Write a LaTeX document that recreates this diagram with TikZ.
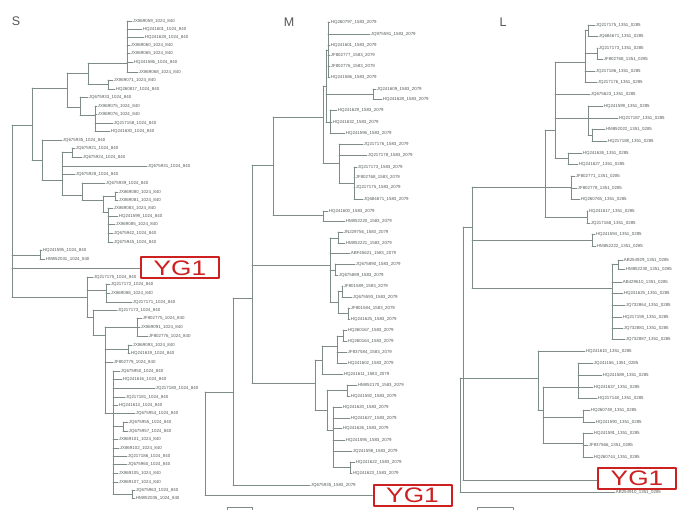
\documentclass[tikz,border=0pt]{standalone}
\usepackage{fontspec}
\setmainfont{Liberation Sans}
\definecolor{branchgray}{RGB}{125,140,135}
\definecolor{tipgray}{RGB}{85,90,90}
\definecolor{boxred}{RGB}{205,32,32}
\definecolor{titlegray}{RGB}{85,85,85}
\newcounter{tipno}
% vertical line of a clade, horizontal stem, and a labelled tip
\newcommand{\clade}[3]{\draw[branch] (#1,#2) -- (#1,#3);}
\newcommand{\stem}[3]{\draw[branch] (#1,#3) -- (#2,#3);}
\newcommand{\tipleaf}[4]{\stepcounter{tipno}%
  \draw[branch] (#1,#3) -- (#2,#3) node[tip] (tip\thetipno) {#4\sfx};}
\begin{document}
\begin{tikzpicture}[line join=round, line cap=round, x=1pt, y=-1pt]
            \tikzset{branch/.style={draw=branchgray, line width=0.6pt},
                     tip/.style={anchor=west, inner sep=0.6pt, text=tipgray, font=\fontsize{4.4}{5}\selectfont},
                     title/.style={text=titlegray, font=\fontsize{12.5}{14}\selectfont},
                     ygbox/.style={draw=boxred, line width=2pt, fill=white, text=boxred, minimum width=78pt, minimum height=21pt, inner sep=0pt, font=\fontsize{21}{21}\selectfont}}
            \useasboundingbox (0,0) rectangle (677,510);
            % ---------- S ----------
            \def\sfx{\_1024\_840}
            \node[title] (titleS) at (16,21) {S};
            \clade{12}{125}{297}
            \stem{12}{32}{125}
            \clade{32}{88}{160}
            \stem{32}{67}{88}
            \clade{67}{73}{107}
            \stem{67}{88}{73}
            \clade{88}{63}{84}
            \stem{88}{127}{63}
            \clade{127}{21}{72}
            \tipleaf{127}{132}{21}{JX869059}
            \tipleaf{127}{142}{29}{HQ241601}
            \tipleaf{127}{144}{37}{HQ241628}
            \tipleaf{127}{130}{45}{JX869060}
            \tipleaf{127}{130}{53}{JX869065}
            \tipleaf{127}{133}{62}{HQ241586}
            \tipleaf{127}{138}{72}{JX869068}
            \stem{88}{108}{84}
            \clade{108}{80}{89}
            \tipleaf{108}{113}{80}{JX869071}
            \tipleaf{108}{115}{89}{HQ260817}
            \stem{67}{80}{107}
            \clade{80}{97}{115}
            \tipleaf{80}{88}{97}{JQ675933}
            \stem{80}{95}{115}
            \clade{95}{106}{131}
            \tipleaf{95}{97}{106}{JX869075}
            \tipleaf{95}{97}{114}{JX869076}
            \tipleaf{95}{113}{123}{JQ217158}
            \tipleaf{95}{110}{131}{HQ241630}
            \stem{32}{42}{160}
            \clade{42}{140}{180}
            \tipleaf{42}{62}{140}{JQ675935}
            \stem{42}{62}{180}
            \clade{62}{152}{195}
            \stem{62}{72}{152}
            \clade{72}{148}{157}
            \tipleaf{72}{75}{148}{JQ675921}
            \tipleaf{72}{82}{157}{JQ675924}
            \tipleaf{62}{147}{166}{JQ675931}
            \tipleaf{62}{75}{174}{JQ675928}
            \stem{62}{82}{195}
            \clade{82}{183}{200}
            \tipleaf{82}{105}{183}{JQ675939}
            \stem{82}{103}{200}
            \clade{103}{196}{212}
            \stem{103}{115}{196}
            \clade{115}{192}{200}
            \tipleaf{115}{118}{192}{JX869080}
            \tipleaf{115}{118}{200}{JX869081}
            \stem{103}{108}{212}
            \clade{108}{208}{242}
            \tipleaf{108}{113}{208}{JX869083}
            \tipleaf{108}{118}{216}{HQ241599}
            \tipleaf{108}{115}{224}{JX869085}
            \tipleaf{108}{113}{233}{JQ675942}
            \tipleaf{108}{113}{242}{JQ675945}
            \stem{12}{40}{255}
            \clade{40}{250}{259}
            \tipleaf{40}{42}{250}{HQ241595}
            \tipleaf{40}{45}{259}{HM852031}
            \node[ygbox] (ygS) at (180,268) {\scalebox{1.25}[1]{YG1}};
            \draw[branch] (12,268) -- (ygS.west);
            \stem{12}{87}{297}
            \clade{87}{277}{317}
            \tipleaf{87}{93}{277}{JQ217175}
            \stem{87}{106}{290}
            \clade{106}{284}{302}
            \tipleaf{106}{110}{284}{JQ217172}
            \tipleaf{106}{110}{293}{JX869088}
            \tipleaf{106}{132}{302}{JQ217171}
            \stem{87}{93}{317}
            \clade{93}{310}{335}
            \tipleaf{93}{117}{310}{JQ217173}
            \stem{93}{105}{335}
            \clade{105}{327}{413}
            \stem{105}{137}{327}
            \clade{137}{318}{336}
            \tipleaf{137}{142}{318}{JF802775}
            \tipleaf{137}{140}{327}{JX869091}
            \tipleaf{137}{148}{336}{JF802776}
            \stem{105}{128}{349}
            \clade{128}{345}{353}
            \tipleaf{128}{132}{345}{JX869093}
            \tipleaf{128}{130}{353}{HQ241619}
            \tipleaf{105}{113}{362}{JF802779}
            \stem{105}{113}{413}
            \clade{113}{371}{494}
            \tipleaf{113}{120}{371}{JQ675950}
            \tipleaf{113}{122}{379}{HQ241616}
            \tipleaf{113}{155}{388}{JQ217180}
            \tipleaf{113}{125}{397}{JQ217181}
            \tipleaf{113}{118}{405}{HQ241613}
            \tipleaf{113}{135}{413}{JQ675954}
            \stem{113}{123}{426}
            \clade{123}{422}{431}
            \tipleaf{123}{128}{422}{JQ675955}
            \tipleaf{123}{128}{431}{JQ675957}
            \tipleaf{113}{118}{439}{JX869101}
            \tipleaf{113}{119}{448}{JX869102}
            \tipleaf{113}{127}{456}{JQ217186}
            \tipleaf{113}{127}{464}{JQ675960}
            \tipleaf{113}{118}{473}{JX869105}
            \tipleaf{113}{118}{482}{JX869107}
            \stem{113}{132}{494}
            \clade{132}{490}{498}
            \tipleaf{132}{135}{490}{JQ675963}
            \tipleaf{132}{135}{498}{HM852035}
            % ---------- M ----------
            \def\sfx{\_1583\_2079}
            \node[title] (titleM) at (289,22) {M};
            \clade{205}{392}{495}
            \stem{205}{233}{392}
            \clade{233}{298}{485}
            \tipleaf{233}{310}{485}{JQ675935}
            \node[ygbox] (ygM) at (412.5,495.5) {\scalebox{1.25}[1]{YG1}};
            \draw[branch] (205,495) -- (ygM.west |- 0,495);
            \stem{233}{252}{298}
            \clade{252}{165}{383}
            \stem{252}{273}{165}
            \clade{273}{117}{215}
            \stem{273}{323}{117}
            \clade{323}{86}{163}
            \stem{323}{326}{86}
            \clade{326}{50}{122}
            \stem{326}{328}{50}
            \clade{328}{22}{77}
            \tipleaf{328}{330}{22}{HQ260797}
            \tipleaf{328}{370}{34}{JQ975591}
            \tipleaf{328}{330}{45}{HQ241601}
            \tipleaf{328}{330}{55}{JF802777}
            \tipleaf{328}{330}{66}{JF802776}
            \tipleaf{328}{330}{77}{HQ241586}
            \stem{326}{373}{94}
            \clade{373}{89}{99}
            \tipleaf{373}{376}{89}{JQ241609}
            \tipleaf{373}{382}{99}{HQ241628}
            \stem{326}{330}{122}
            \clade{330}{110}{133}
            \tipleaf{330}{337}{110}{HQ241629}
            \tipleaf{330}{332}{122}{HQ241632}
            \tipleaf{330}{345}{133}{HQ241596}
            \stem{323}{339}{163}
            \clade{339}{144}{183}
            \tipleaf{339}{363}{144}{JQ217176}
            \tipleaf{339}{367}{155}{JQ217178}
            \stem{339}{354}{183}
            \clade{354}{167}{199}
            \tipleaf{354}{357}{167}{JQ217173}
            \tipleaf{354}{355}{177}{JF802768}
            \tipleaf{354}{355}{187}{JQ217175}
            \tipleaf{354}{363}{199}{JQ684671}
            \stem{273}{323}{215}
            \clade{323}{211}{221}
            \tipleaf{323}{328}{211}{HQ241600}
            \tipleaf{323}{345}{221}{HM852220}
            \stem{252}{330}{265}
            \clade{330}{238}{302}
            \stem{330}{338}{238}
            \clade{338}{232}{243}
            \tipleaf{338}{343}{232}{JN229756}
            \tipleaf{338}{345}{243}{HM852221}
            \tipleaf{330}{350}{253}{ABF45621}
            \stem{330}{335}{270}
            \clade{335}{264}{275}
            \tipleaf{335}{355}{264}{JQ675890}
            \tipleaf{335}{338}{275}{JQ675889}
            \stem{330}{338}{302}
            \clade{338}{291}{313}
            \stem{338}{342}{291}
            \clade{342}{286}{297}
            \tipleaf{342}{343}{286}{JF801589}
            \tipleaf{342}{352}{297}{JQ675593}
            \stem{338}{348}{313}
            \clade{348}{308}{319}
            \tipleaf{348}{350}{308}{JF801584}
            \tipleaf{348}{350}{319}{HQ241625}
            \stem{252}{315}{383}
            \clade{315}{360}{410}
            \stem{315}{322}{360}
            \clade{322}{346}{374}
            \stem{322}{337}{346}
            \clade{337}{336}{363}
            \stem{337}{343}{336}
            \clade{343}{330}{341}
            \tipleaf{343}{347}{330}{HQ260167}
            \tipleaf{343}{347}{341}{HQ260164}
            \tipleaf{337}{347}{352}{JF837584}
            \tipleaf{337}{347}{363}{HQ241602}
            \tipleaf{322}{343}{374}{HQ241611}
            \stem{315}{327}{410}
            \clade{327}{390}{430}
            \stem{327}{347}{390}
            \clade{347}{385}{396}
            \tipleaf{347}{357}{385}{HM852170}
            \tipleaf{347}{350}{396}{HQ241592}
            \stem{327}{333}{430}
            \clade{333}{407}{467}
            \tipleaf{333}{342}{407}{HQ241620}
            \tipleaf{333}{350}{418}{HQ241627}
            \tipleaf{333}{342}{428}{HQ241626}
            \tipleaf{333}{345}{440}{HQ241595}
            \tipleaf{333}{352}{451}{JQ241598}
            \stem{333}{350}{467}
            \clade{350}{462}{473}
            \tipleaf{350}{355}{462}{HQ241622}
            \tipleaf{350}{352}{473}{HQ241623}
            \draw[branch] (227,510) -- (227,507) -- (252,507) -- (252,510);
            % ---------- L ----------
            \def\sfx{\_1351\_0285}
            \node[title] (titleL) at (503,22) {L};
            \clade{460}{378}{492}
            \clade{463}{227}{480}
            \stem{463}{472}{227}
            \clade{472}{187}{288}
            \stem{472}{545}{187}
            \clade{545}{130}{217}
            \stem{545}{555}{130}
            \clade{555}{62}{158}
            \stem{555}{585}{62}
            \clade{585}{30}{82}
            \stem{585}{588}{30}
            \clade{588}{25}{36}
            \tipleaf{588}{595}{25}{JQ217175}
            \tipleaf{588}{598}{36}{JQ684671}
            \stem{585}{597}{53}
            \clade{597}{48}{59}
            \tipleaf{597}{598}{48}{JQ217173}
            \tipleaf{597}{603}{59}{JF802768}
            \tipleaf{585}{595}{71}{JQ217186}
            \tipleaf{585}{597}{82}{JQ217176}
            \tipleaf{555}{590}{94}{JQ675623}
            \stem{555}{588}{118}
            \clade{588}{106}{135}
            \tipleaf{588}{603}{106}{HQ241599}
            \tipleaf{588}{618}{118}{HQ217187}
            \stem{588}{592}{135}
            \clade{592}{129}{141}
            \tipleaf{592}{605}{129}{HM852022}
            \tipleaf{592}{607}{141}{HQ217188}
            \stem{555}{568}{158}
            \clade{568}{153}{164}
            \tipleaf{568}{582}{153}{HQ241626}
            \tipleaf{568}{578}{164}{HQ241627}
            \stem{545}{571}{187}
            \clade{571}{176}{199}
            \tipleaf{571}{575}{176}{JF802771}
            \tipleaf{571}{577}{188}{JF802778}
            \tipleaf{571}{580}{199}{HQ260765}
            \stem{545}{587}{217}
            \clade{587}{211}{223}
            \tipleaf{587}{588}{211}{HQ241617}
            \tipleaf{587}{590}{223}{JQ217168}
            \stem{472}{592}{240}
            \clade{592}{234}{246}
            \tipleaf{592}{595}{234}{HQ241594}
            \tipleaf{592}{596}{246}{HM852222}
            \stem{472}{612}{288}
            \clade{612}{264}{339}
            \stem{612}{618}{264}
            \clade{618}{260}{269}
            \tipleaf{618}{623}{260}{AB254929}
            \tipleaf{618}{625}{269}{HM852230}
            \tipleaf{612}{622}{282}{AB429610}
            \tipleaf{612}{623}{293}{HQ241625}
            \tipleaf{612}{625}{305}{JQ732864}
            \tipleaf{612}{622}{317}{HQ217159}
            \tipleaf{612}{623}{328}{JQ732881}
            \tipleaf{612}{625}{339}{JQ732887}
            \stem{460}{538}{378}
            \clade{538}{351}{410}
            \tipleaf{538}{585}{351}{HQ241610}
            \stem{538}{543}{410}
            \clade{543}{387}{443}
            \stem{543}{578}{387}
            \clade{578}{363}{398}
            \tipleaf{578}{593}{363}{JQ241156}
            \tipleaf{578}{602}{375}{HQ241589}
            \tipleaf{578}{593}{387}{HQ241637}
            \tipleaf{578}{597}{398}{HQ217148}
            \stem{543}{583}{417}
            \clade{583}{410}{422}
            \tipleaf{583}{590}{410}{HQ260749}
            \tipleaf{583}{595}{422}{HQ241590}
            \stem{543}{583}{443}
            \clade{583}{433}{457}
            \tipleaf{583}{593}{433}{HQ241591}
            \tipleaf{583}{588}{445}{JF837566}
            \tipleaf{583}{593}{457}{HQ260744}
            \tipleaf{460}{615}{492}{AB254910}
            \node[ygbox] (ygL) at (637,478.5) {\scalebox{1.25}[1]{YG1}};
            \draw[branch] (463,480) -- (ygL.west |- 0,480);
            \draw[branch] (477,510) -- (477,507) -- (513,507) -- (513,510);
\end{tikzpicture}
\end{document}
